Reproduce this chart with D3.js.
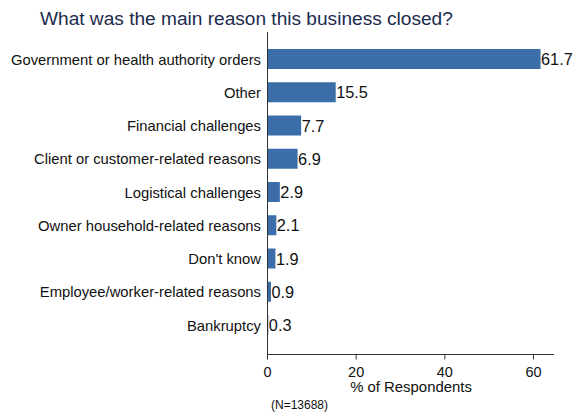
<!DOCTYPE html>
<html><head><meta charset="utf-8">
<script src="https://cdn.jsdelivr.net/npm/d3@7"></script>
<style>body{margin:0;background:#fff;} svg{display:block;font-family:"Liberation Sans",Arial,sans-serif;}</style>
</head><body>
<script>
const categories = ["Government or health authority orders","Other","Financial challenges","Client or customer-related reasons","Logistical challenges","Owner household-related reasons","Don't know","Employee/worker-related reasons","Bankruptcy"];
const values = [61.7,15.5,7.7,6.9,2.9,2.1,1.9,0.9,0.3];
const xTicks = [0,20,40,60];
const title = "What was the main reason this business closed?";
const xLabel = "% of Respondents";
const note = "(N=13688)";

const W=574,H=417;
const svg=d3.select("body").append("svg").attr("width",W).attr("height",H);
const x=d3.scaleLinear().domain([0,60]).range([267,533]);
const y=d3.scalePoint().domain(categories).range([59,325]);
const bh=20;

svg.append("text").attr("x",40).attr("y",25).attr("font-size",19.1).attr("fill","#1c2b4e").text(title);

svg.selectAll("rect.bar").data(values).join("rect").attr("class","bar")
  .attr("x",x(0)).attr("y",(d,i)=>y(categories[i])-bh/2)
  .attr("width",d=>x(d)-x(0)).attr("height",bh).attr("fill","#3b6ea8");

svg.selectAll("text.val").data(values).join("text").attr("class","val")
  .attr("x",d=>x(d)+0.5).attr("y",(d,i)=>y(categories[i])+6)
  .attr("font-size",16.3).attr("fill","#111").text(d=>d.toFixed(1));

svg.selectAll("text.cat").data(categories).join("text").attr("class","cat")
  .attr("x",261).attr("y",d=>y(d)+5.5).attr("text-anchor","end")
  .attr("font-size",14.8).attr("fill","#111").text(d=>d);

svg.append("line").attr("x1",267.5).attr("x2",267.5).attr("y1",32).attr("y2",354).attr("stroke","#333").attr("stroke-width",1);

const xAxis=d3.axisBottom(x).tickValues(xTicks).tickSize(5).tickFormat(d3.format("d"));
const gx=svg.append("g").attr("transform","translate(0,354.5)").call(xAxis);
gx.select(".domain").attr("d","M"+(x(0))+",0H"+(x(0)+287)).attr("stroke","#333");
gx.selectAll(".tick line").attr("stroke","#333");
gx.selectAll(".tick text").attr("font-size",14.5).attr("fill","#111").attr("font-family","Liberation Sans, Arial, sans-serif").attr("y",22.5).attr("dy",0);

svg.append("text").attr("x",411).attr("y",392).attr("text-anchor","middle").attr("font-size",14.9).attr("fill","#111").text(xLabel);
svg.append("text").attr("x",271).attr("y",409).attr("font-size",12).attr("fill","#111").text(note);
</script>
</body></html>
